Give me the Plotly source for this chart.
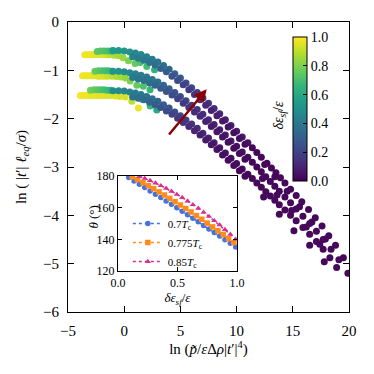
import plotly.graph_objects as go

FONT = "Liberation Serif"

# ---- main panel: three temperature families of points (x, y, colour = d_eps/eps) ----
row1_x = [-1.0, -0.5, 0.0, 0.5, 1.0, 1.5, 2.0, 2.5, 3.0, 3.5, 4.0, 4.5, 5.0,
          5.5, 6.0, 6.5, 7.0, 7.5, 8.0, 8.5, 9.0, 9.5, 10.0, 10.5, 11.0]
row2_x = [0.75, 1.25, 1.75, 2.25, 2.75, 3.25, 3.75, 4.25, 4.75, 5.25, 5.75,
          6.25, 6.75, 7.25, 7.75, 8.25, 8.75, 9.25, 9.75, 10.25, 10.75]

# top family
top_left_x = [-3.5, -3.3, -3.1, -2.9, -2.7, -2.5, -2.3, -2.1, -1.9, -1.6,
              -1.3, -0.9, -0.5, -0.1, 0.38,
              -2.4, -2.1, -1.8, -1.5, -1.2, -0.95,
              0.97, 1.42, 2.01, 2.7]
top_left_y = [-0.68, -0.68, -0.68, -0.68, -0.67, -0.67, -0.67, -0.67, -0.68, -0.68,
              -0.68, -0.69, -0.70, -0.74, -0.80,
              -0.61, -0.60, -0.60, -0.60, -0.60, -0.60,
              -0.86, -0.84, -0.92, -0.99]
top_left_c = [0.98, 0.98, 0.97, 0.97, 0.97, 0.96, 0.96, 0.95, 0.95, 0.94,
              0.90, 0.88, 0.86, 0.84, 0.80,
              0.74, 0.73, 0.72, 0.70, 0.68, 0.66,
              0.76, 0.72, 0.70, 0.64]
top_row1_y = [-0.59, -0.59, -0.60, -0.62, -0.64, -0.67, -0.72, -0.77, -0.83, -0.90,
              -0.98, -1.07, -1.16, -1.26, -1.36, -1.46, -1.57, -1.68, -1.79, -1.90,
              -2.02, -2.14, -2.26, -2.38, -2.50]
top_row1_c = [0.55, 0.54, 0.52, 0.50, 0.48, 0.46, 0.44, 0.42, 0.39, 0.36,
              0.33, 0.30, 0.27, 0.24, 0.21, 0.19, 0.17, 0.15, 0.13, 0.11,
              0.09, 0.08, 0.07, 0.06, 0.05]
top_row2_y = [-0.72, -0.75, -0.79, -0.84, -0.89, -0.96, -1.03, -1.12, -1.21, -1.30,
              -1.40, -1.50, -1.61, -1.72, -1.83, -1.94, -2.05, -2.17, -2.29, -2.41, -2.53]
top_row2_c = [0.44, 0.42, 0.40, 0.38, 0.35, 0.32, 0.29, 0.26, 0.23, 0.20,
              0.17, 0.15, 0.13, 0.11, 0.09, 0.08, 0.06, 0.05, 0.04, 0.04, 0.03]
top_tail_x = [11.4, 11.8, 12.2, 12.7, 13.1, 13.5, 13.9, 14.3, 14.8, 15.3, 15.8,
              16.4, 17.0, 17.6, 18.2, 18.8, 19.5,
              12.5, 13.4, 14.5, 15.6, 16.7, 17.9]
top_tail_y = [-2.60, -2.70, -2.80, -2.92, -3.02, -3.12, -3.22, -3.33, -3.46, -3.59, -3.72,
              -3.88, -4.05, -4.22, -4.42, -4.62, -4.88,
              -2.95, -3.20, -3.50, -3.82, -4.14, -4.49]

# middle family
mid_left_x = [-3.7, -3.5, -3.3, -3.1, -2.9, -2.7, -2.5, -2.3, -2.1, -1.8,
              -1.5, -1.1, -0.7, -0.3, 0.1,
              -2.6, -2.3, -2.0, -1.7, -1.4, -1.1,
              0.53, 1.13, 1.7, 2.3]
mid_left_y = [-1.11, -1.11, -1.11, -1.11, -1.11, -1.11, -1.11, -1.12, -1.12, -1.12,
              -1.12, -1.12, -1.13, -1.14, -1.16,
              -1.02, -1.01, -1.01, -1.01, -1.01, -1.02,
              -1.22, -1.31, -1.33, -1.40]
mid_left_c = [0.98, 0.98, 0.97, 0.97, 0.97, 0.96, 0.96, 0.95, 0.95, 0.94,
              0.92, 0.90, 0.88, 0.86, 0.84,
              0.76, 0.74, 0.72, 0.70, 0.68, 0.66,
              0.80, 0.76, 0.72, 0.66]
mid_row1_y = [-1.02, -1.02, -1.03, -1.05, -1.07, -1.10, -1.14, -1.19, -1.24, -1.31,
              -1.38, -1.46, -1.54, -1.63, -1.72, -1.81, -1.91, -2.02, -2.12, -2.23,
              -2.34, -2.46, -2.57, -2.69, -2.80]
mid_row1_c = [0.52, 0.51, 0.49, 0.47, 0.45, 0.43, 0.41, 0.39, 0.36, 0.33,
              0.30, 0.27, 0.24, 0.21, 0.18, 0.16, 0.14, 0.12, 0.10, 0.08,
              0.07, 0.06, 0.05, 0.04, 0.03]
mid_row2_y = [-1.15, -1.18, -1.21, -1.26, -1.31, -1.37, -1.44, -1.51, -1.59, -1.68,
              -1.77, -1.86, -1.95, -2.06, -2.16, -2.27, -2.38, -2.49, -2.61, -2.72, -2.84]
mid_row2_c = [0.41, 0.39, 0.37, 0.35, 0.32, 0.29, 0.26, 0.23, 0.20, 0.17,
              0.15, 0.13, 0.11, 0.09, 0.07, 0.06, 0.05, 0.04, 0.03, 0.03, 0.02]
mid_tail_x = [11.4, 11.8, 12.2, 12.6, 13.0, 13.4, 13.8, 14.3, 14.8, 15.3, 15.9,
              16.5, 17.1, 17.7, 18.4, 19.1,
              12.3, 13.6, 14.9, 16.2, 17.4]
mid_tail_y = [-2.90, -3.00, -3.10, -3.20, -3.30, -3.40, -3.50, -3.62, -3.74, -3.87, -4.02,
              -4.17, -4.33, -4.50, -4.70, -4.92,
              -3.24, -3.58, -3.90, -4.24, -4.60]

# bottom family
low_left_x = [-3.9, -3.7, -3.5, -3.3, -3.1, -2.9, -2.7, -2.5, -2.3, -2.1, -1.8, -1.5, -1.2,
              -0.8, -0.4, 0.09, 0.68, 1.27,
              -3.0, -2.7, -2.4, -2.1, -1.8, -1.5, -1.2,
              1.57, 2.31, 2.9]
low_left_y = [-1.52, -1.52, -1.52, -1.52, -1.52, -1.52, -1.52, -1.52, -1.52, -1.52, -1.52, -1.52, -1.52,
              -1.53, -1.54, -1.55, -1.64, -1.78,
              -1.41, -1.40, -1.40, -1.40, -1.40, -1.41, -1.41,
              -1.60, -1.74, -1.82]
low_left_c = [0.99, 0.99, 0.98, 0.98, 0.98, 0.97, 0.97, 0.97, 0.96, 0.96, 0.96, 0.95, 0.95,
              0.95, 0.94, 0.94, 0.90, 0.97,
              0.78, 0.76, 0.74, 0.72, 0.70, 0.68, 0.66,
              0.72, 0.66, 0.60]
low_row1_y = [-1.42, -1.42, -1.43, -1.45, -1.47, -1.50, -1.54, -1.59, -1.64, -1.71,
              -1.78, -1.86, -1.94, -2.03, -2.11, -2.20, -2.30, -2.40, -2.50, -2.60,
              -2.71, -2.82, -2.93, -3.04, -3.15]
low_row1_c = [0.49, 0.48, 0.46, 0.44, 0.42, 0.40, 0.38, 0.36, 0.33, 0.30,
              0.27, 0.24, 0.21, 0.18, 0.15, 0.13, 0.11, 0.09, 0.07, 0.06,
              0.05, 0.04, 0.03, 0.03, 0.02]
low_row2_y = [-1.55, -1.58, -1.61, -1.66, -1.71, -1.77, -1.84, -1.91, -1.99, -2.08,
              -2.16, -2.25, -2.34, -2.44, -2.54, -2.64, -2.75, -2.86, -2.97, -3.08, -3.19]
low_row2_c = [0.38, 0.36, 0.34, 0.32, 0.29, 0.26, 0.23, 0.20, 0.17, 0.14,
              0.12, 0.10, 0.08, 0.07, 0.06, 0.05, 0.04, 0.03, 0.03, 0.02, 0.02]
low_tail_x = [11.4, 11.8, 12.2, 12.6, 13.0, 13.4, 13.8, 14.3, 14.8, 15.3, 15.9,
              16.5, 17.1, 17.7, 18.3, 18.9, 19.9,
              12.4, 13.8, 15.1, 16.5, 17.8]
low_tail_y = [-3.24, -3.33, -3.42, -3.51, -3.60, -3.69, -3.78, -3.89, -4.00, -4.11, -4.25,
              -4.39, -4.54, -4.70, -4.88, -5.08, -5.20,
              -3.62, -3.98, -4.32, -4.62, -4.96]

# ---- inset: contact angle vs d_eps/eps ----
eps_07 = [0.09, 0.135, 0.18, 0.225, 0.27, 0.315, 0.36, 0.405, 0.45, 0.495, 0.54,
          0.585, 0.63, 0.675, 0.72, 0.765, 0.81, 0.855, 0.90, 0.945, 0.99]
theta_07 = [179.0, 176.9, 174.8, 172.7, 170.6, 168.5, 166.4, 164.2, 162.1, 159.9, 157.7,
            155.5, 153.3, 151.1, 148.8, 146.6, 144.3, 142.1, 139.8, 137.5, 135.2]
eps_0775 = [0.12, 0.165, 0.21, 0.255, 0.30, 0.345, 0.39, 0.435, 0.48, 0.525,
            0.57, 0.615, 0.66, 0.705, 0.75, 0.795, 0.84, 0.885, 0.93, 0.975]
theta_0775 = [179.5, 177.7, 175.8, 173.9, 172.0, 170.0, 168.0, 165.9, 163.8, 161.7,
              159.5, 157.3, 155.0, 152.7, 150.3, 147.9, 145.5, 143.1, 140.5, 138.0]
eps_085 = [0.18, 0.225, 0.27, 0.315, 0.36, 0.405, 0.45, 0.495, 0.54, 0.585,
           0.63, 0.675, 0.72, 0.765, 0.81, 0.855, 0.90, 0.945, 0.99]
theta_085 = [179.8, 178.5, 177.1, 175.5, 173.9, 172.2, 170.3, 168.4, 166.4, 164.2,
             161.9, 159.6, 157.1, 154.5, 151.8, 149.1, 146.2, 143.2, 140.1]

fig = go.Figure()

families = [
    (top_left_x, top_left_y, top_left_c, top_row1_y, top_row1_c, top_row2_y, top_row2_c, top_tail_x, top_tail_y),
    (mid_left_x, mid_left_y, mid_left_c, mid_row1_y, mid_row1_c, mid_row2_y, mid_row2_c, mid_tail_x, mid_tail_y),
    (low_left_x, low_left_y, low_left_c, low_row1_y, low_row1_c, low_row2_y, low_row2_c, low_tail_x, low_tail_y),
]

for i, (lx, ly, lc, r1y, r1c, r2y, r2c, tx, ty) in enumerate(families):
    xs = lx + row1_x + row2_x + tx
    ys = ly + r1y + r2y + ty
    cs = lc + r1c + r2c + [0.02] * len(tx)
    fig.add_trace(go.Scatter(
        x=xs, y=ys, mode="markers", showlegend=False, hoverinfo="skip",
        marker=dict(size=7, color=cs, colorscale="Viridis", cmin=0, cmax=1,
                    line=dict(width=0),
                    showscale=(i == 0),
                    colorbar=dict(x=0.801, xanchor="left", y=0.70, yanchor="middle",
                                  len=144, lenmode="pixels", thickness=14,
                                  tickvals=[0, 0.2, 0.4, 0.6, 0.8, 1.0],
                                  ticktext=["0.0", "0.2", "0.4", "0.6", "0.8", "1.0"],
                                  ticks="inside", ticklen=4, tickcolor="black",
                                  outlinewidth=1, outlinecolor="black",
                                  tickfont=dict(family=FONT, size=14, color="black"),
                                  xpad=0, ypad=0)),
    ))

# inset series
inset = [
    (eps_07, theta_07, "0.7<i>T</i><sub>c</sub>", "#4572e0", "circle"),
    (eps_0775, theta_0775, "0.775<i>T</i><sub>c</sub>", "#ff8c1a", "square"),
    (eps_085, theta_085, "0.85<i>T</i><sub>c</sub>", "#d6308e", "triangle-up"),
]
for ex, th, name, col, sym in inset:
    fig.add_trace(go.Scatter(
        x=ex, y=th, name=name, xaxis="x2", yaxis="y2", mode="lines+markers",
        line=dict(color=col, width=1.5, dash="dot"),
        marker=dict(color=col, size=5.5, symbol=sym),
    ))

axis_common = dict(showline=True, linecolor="black", linewidth=1.2, mirror="ticks",
                   ticks="inside", tickcolor="black", showgrid=False, zeroline=False,
                   automargin=False, ticklabelstandoff=5,
                   tickfont=dict(family=FONT, size=15, color="black"))
inset_common = dict(showline=True, linecolor="black", linewidth=1, mirror="ticks",
                    ticks="inside", ticklen=4, tickcolor="black", showgrid=False,
                    zeroline=False, automargin=False,
                    tickfont=dict(family=FONT, size=12, color="black"))

# the page body adds an 8 px offset, so the figure is drawn 8 px smaller than the window
fig.update_layout(
    width=358, height=358,
    margin=dict(l=60, r=17, t=14, b=54),
    paper_bgcolor="white", plot_bgcolor="white",
    font=dict(family=FONT, color="black"),
    xaxis=dict(range=[-5, 20], tickvals=[-5, 0, 5, 10, 15, 20], ticklen=6,
               title=dict(text="ln (<i>p\u0303</i>/<i>ε</i>Δ<i>ρ</i>|<i>t</i>′|<sup>4</sup>)",
                          font=dict(size=15), standoff=3),
               **axis_common),
    yaxis=dict(range=[-6, 0], tickvals=[-6, -5, -4, -3, -2, -1, 0], ticklen=6,
               title=dict(text="ln ( |<i>t</i>′| <i>ℓ</i><sub><i>eq</i></sub>/<i>σ</i>)",
                          font=dict(size=15), standoff=12),
               **axis_common),
    xaxis2=dict(domain=[0.178, 0.601], anchor="y2", range=[0, 1],
                tickvals=[0, 0.5, 1.0], ticktext=["0.0", "0.5", "1.0"],
                title=dict(text="<i>δε</i><sub><i>sf</i></sub>/<i>ε</i>",
                           font=dict(size=13), standoff=4),
                **inset_common),
    yaxis2=dict(domain=[0.141, 0.469], anchor="x2", range=[120, 180],
                tickvals=[120, 140, 160, 180], **inset_common),
    legend=dict(x=0.213, y=0.355, xanchor="left", yanchor="top",
                bgcolor="rgba(0,0,0,0)", font=dict(family=FONT, size=11),
                itemwidth=30, tracegroupgap=0),
    annotations=[
        dict(x=7.34, y=-1.39, ax=3.88, ay=-2.36, xref="x", yref="y", axref="x", ayref="y",
             text="", showarrow=True, arrowhead=2, arrowsize=1, arrowwidth=2.5,
             arrowcolor="#8b0000"),
        dict(x=0.801, y=0.731, xref="paper", yref="paper", xanchor="right", xshift=-4,
             textangle=-90, showarrow=False,
             text="<i>δε</i><sub><i>sf</i></sub>/<i>ε</i>",
             font=dict(family=FONT, size=14, color="black")),
        # inset y-axis title
        dict(x=0.057, y=0.279, xref="paper", yref="paper", textangle=-90, showarrow=False,
             text="<i>θ</i> (°)", font=dict(family=FONT, size=13, color="black")),
    ],
)

fig.write_html("out.html")
